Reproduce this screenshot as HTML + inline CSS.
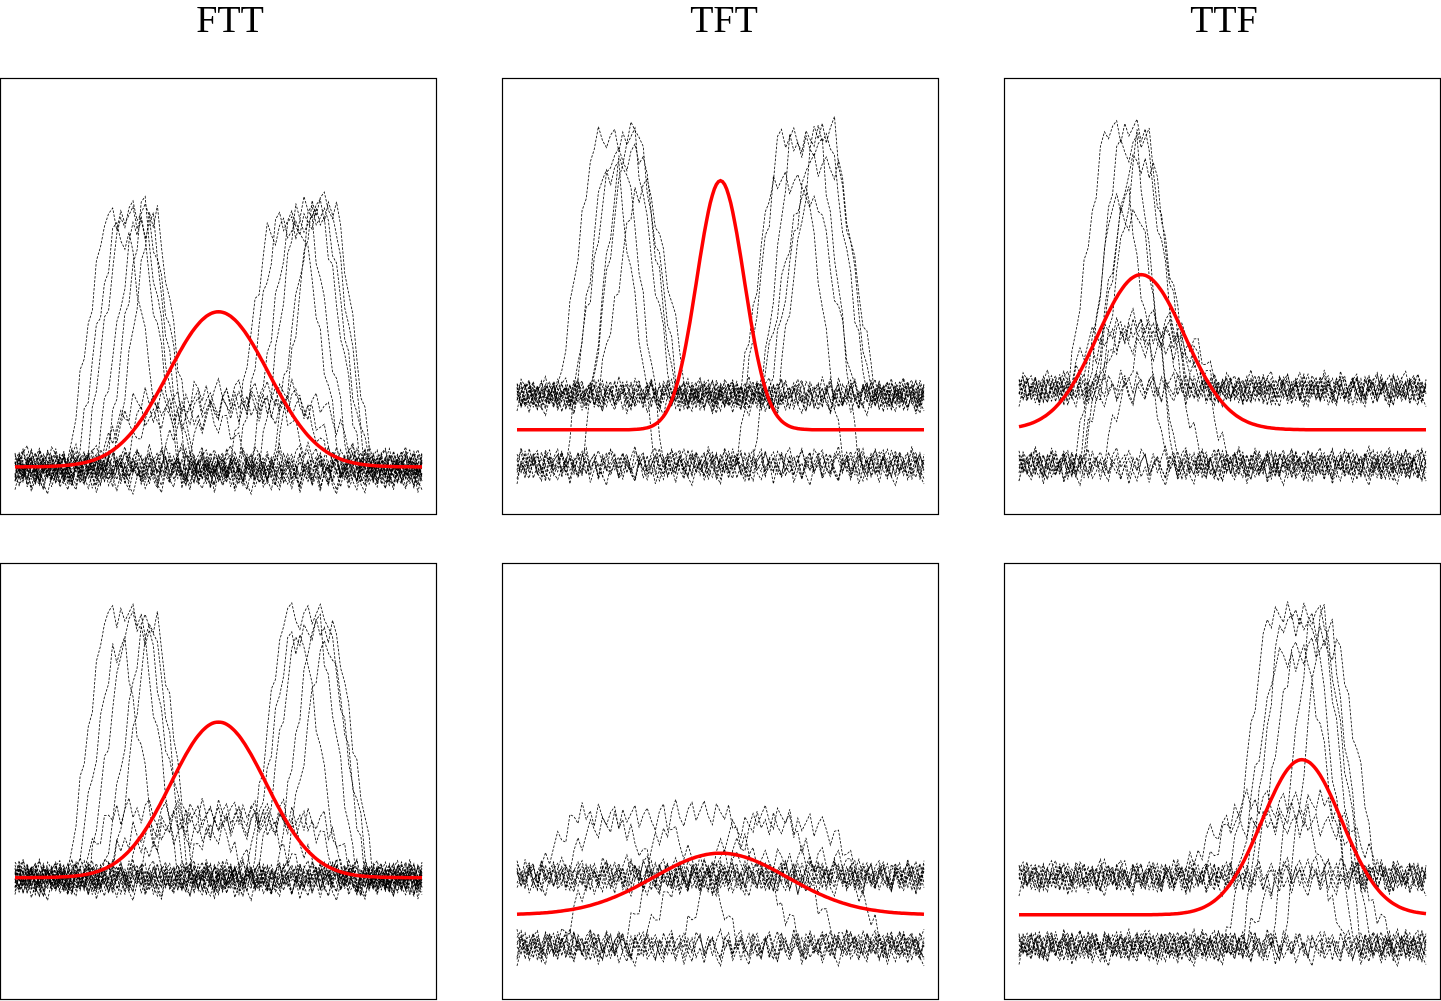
<!DOCTYPE html>
<html><head><meta charset="utf-8"><style>
html,body{margin:0;padding:0;background:#fff;width:1441px;height:1001px;overflow:hidden}
svg{display:block}
</style></head><body>
<svg id="chart" width="1441" height="1001" xmlns="http://www.w3.org/2000/svg"></svg>
<script>
// Panel titles and boxes
const titles = ["FTT","TFT","TTF"];
const titleX = [230,724,1224];
const boxX = [0,502,1004];
const boxY = [78,563];
// Red gaussian fits per panel: baseline, amplitude, center, sigma (data units)
const fitBase = [0.11,0.195,0.195,0.28,0.195,0.195];
const fitAmp = [0.355,0.57,0.355,0.356,0.141,0.355];
const fitCenter = [0.50,0.50,0.30,0.50,0.50,0.695];
const fitSigma = [0.123,0.058,0.107,0.117,0.165,0.098];
// Traces per panel: [baseline, plateau, riseStart, fallEnd]
const traces = [
 [[0.11,0.68,0.13,0.40],[0.10,0.69,0.17,0.42],[0.12,0.66,0.20,0.43],[0.09,0.70,0.22,0.41],[0.11,0.64,0.15,0.37],[0.10,0.68,0.24,0.44],
  [0.11,0.67,0.55,0.85],[0.10,0.70,0.60,0.87],[0.12,0.66,0.58,0.82],[0.10,0.68,0.63,0.86],[0.11,0.65,0.53,0.80],[0.09,0.71,0.64,0.88],
  [0.12,0.26,0.20,0.80],[0.10,0.24,0.25,0.75],[0.11,0.28,0.35,0.78],[0.09,0.22,0.18,0.60],[0.12,0.25,0.40,0.85],[0.10,0.12,0.0,0.0],[0.08,0.10,0.0,0.0],[0.13,0.13,0.0,0.0]],
 [[0.275,0.86,0.10,0.38],[0.27,0.82,0.14,0.40],[0.115,0.80,0.16,0.36],[0.28,0.74,0.20,0.42],[0.12,0.78,0.12,0.34],[0.265,0.88,0.18,0.39],
  [0.275,0.86,0.55,0.86],[0.11,0.84,0.58,0.84],[0.28,0.80,0.62,0.88],[0.12,0.76,0.54,0.80],[0.27,0.88,0.64,0.87],[0.275,0.72,0.60,0.83],
  [0.27,0.28,0,0],[0.285,0.29,0,0],[0.26,0.26,0,0],[0.115,0.12,0,0],[0.10,0.11,0,0],[0.125,0.13,0,0],[0.11,0.11,0,0],[0.28,0.27,0,0]],
 [[0.29,0.88,0.12,0.40],[0.115,0.84,0.15,0.38],[0.28,0.80,0.18,0.42],[0.12,0.72,0.14,0.36],[0.29,0.86,0.20,0.41],[0.11,0.68,0.16,0.39],
  [0.285,0.42,0.10,0.50],[0.12,0.42,0.15,0.45],[0.29,0.40,0.12,0.48],[0.11,0.38,0.20,0.52],[0.28,0.44,0.18,0.46],
  [0.29,0.29,0,0],[0.28,0.28,0,0],[0.30,0.30,0,0],[0.115,0.12,0,0],[0.11,0.11,0,0],[0.125,0.12,0,0],[0.10,0.10,0,0]],
 [[0.28,0.88,0.13,0.40],[0.27,0.86,0.18,0.43],[0.29,0.84,0.22,0.42],[0.28,0.80,0.15,0.36],[0.27,0.87,0.24,0.44],
  [0.28,0.88,0.57,0.86],[0.29,0.84,0.60,0.88],[0.27,0.86,0.64,0.84],[0.28,0.82,0.58,0.80],[0.28,0.80,0.66,0.87],
  [0.28,0.43,0.15,0.75],[0.27,0.40,0.25,0.82],[0.29,0.42,0.30,0.70],[0.28,0.38,0.20,0.60],[0.27,0.41,0.40,0.85],
  [0.28,0.28,0,0],[0.27,0.27,0,0],[0.29,0.29,0,0],[0.26,0.26,0,0]],
 [[0.285,0.42,0.05,0.45],[0.28,0.40,0.45,0.85],[0.29,0.43,0.30,0.60],[0.125,0.30,0.10,0.55],[0.12,0.32,0.40,0.90],[0.13,0.28,0.25,0.70],
  [0.285,0.40,0.10,0.35],[0.28,0.42,0.50,0.75],[0.125,0.27,0.30,0.80],
  [0.28,0.28,0,0],[0.29,0.29,0,0],[0.27,0.27,0,0],[0.125,0.12,0,0],[0.12,0.12,0,0],[0.13,0.13,0,0],[0.11,0.11,0,0]],
 [[0.28,0.88,0.52,0.84],[0.125,0.86,0.55,0.82],[0.28,0.80,0.58,0.88],[0.13,0.84,0.62,0.86],[0.29,0.78,0.54,0.80],[0.12,0.88,0.65,0.84],
  [0.28,0.45,0.45,0.85],[0.125,0.42,0.50,0.80],[0.28,0.40,0.40,0.90],[0.12,0.30,0.55,0.92],
  [0.28,0.28,0,0],[0.29,0.29,0,0],[0.27,0.27,0,0],[0.125,0.12,0,0],[0.12,0.12,0,0],[0.13,0.13,0,0],[0.11,0.11,0,0]]
];
// Hand-typed jitter pattern (visual texture of the traces)
const jitter = [0.3,-0.8,0.5,0.9,-0.4,-1,0.2,0.7,-0.6,0.1,0.8,-0.3,-0.9,0.6,0.0,-0.5,1,-0.2,0.4,-0.7,
 0.9,-0.1,-0.6,0.3,0.7,-0.9,0.5,-0.4,0.2,0.8,-0.8,0.1,0.6,-0.3,-1,0.4,0.9,-0.5,0.0,0.7,
 -0.2,-0.7,0.8,0.3,-0.6,0.5,-0.9,0.2,1,-0.4];

const NS='http://www.w3.org/2000/svg';
const svg=document.getElementById('chart');
const W=437,H=437,PL=15,PR=422;
function sx(px,v){return px+PL+(PR-PL)*v;}
function sy(py,v){return py+H*(1-v);}
function mk(tag,attrs){const e=document.createElementNS(NS,tag);for(const k in attrs)e.setAttribute(k,attrs[k]);svg.appendChild(e);return e;}

titles.forEach((t,c)=>{
  const e=mk('text',{x:titleX[c],y:32,'text-anchor':'middle','font-family':'"Liberation Serif", "Liberation Mono", serif','font-size':38,fill:'#000'});
  e.textContent=t;
  
  
});

for(let p=0;p<6;p++){
  const r=Math.floor(p/3),c=p%3,px=boxX[c],py=boxY[r];
  const g=mk('rect',{x:px+0.5,y:py+0.5,width:W-1,height:H-1,fill:'none',stroke:'#000','stroke-width':1.2});
  
  
  const N=100,ramp=0.09;
  traces[p].forEach((t,k)=>{
    const [b,h,s,e]=t;let d='';
    for(let i=0;i<=N;i++){
      const x=i/N;let f=0;
      if(e>s){
        if(x>s&&x<s+ramp)f=(x-s)/ramp;else if(x>=s+ramp&&x<=e-ramp)f=1;else if(x>e-ramp&&x<e)f=(e-x)/ramp;
      }
      const v=b+(h-b)*f+0.032*jitter[(i+k*7)%jitter.length];
      d+=(i?'L':'M')+sx(px,x).toFixed(1)+' '+sy(py,v).toFixed(1);
    }
    const l=mk('path',{d:d,fill:'none',stroke:'#000','stroke-width':0.8,'stroke-dasharray':'2.5,1.5'});
    
    
  });
  let d='';
  for(let i=0;i<=200;i++){
    const x=i/200;const v=fitBase[p]+fitAmp[p]*Math.exp(-0.5*Math.pow((x-fitCenter[p])/fitSigma[p],2));
    d+=(i?'L':'M')+sx(px,x).toFixed(1)+' '+sy(py,v).toFixed(1);
  }
  const f=mk('path',{d:d,fill:'none',stroke:'#ff0000','stroke-width':3.5});
  
  
}
</script>
</body></html>
